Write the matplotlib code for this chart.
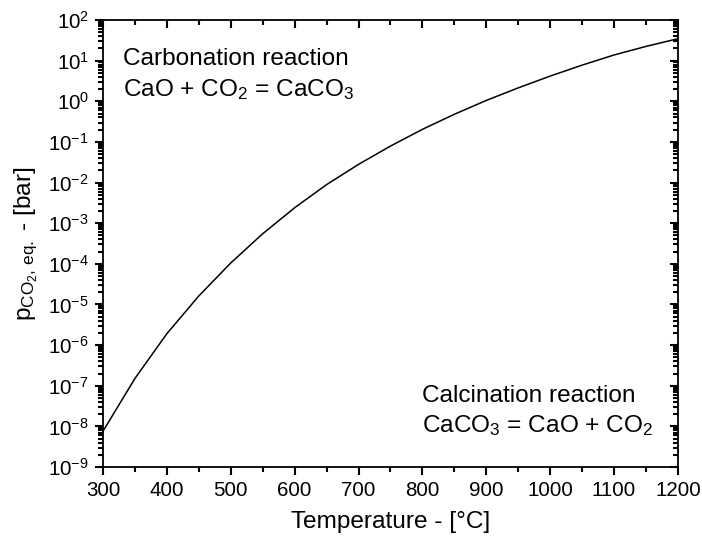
import matplotlib
matplotlib.use('Agg')
import matplotlib.pyplot as plt
from matplotlib.ticker import LogLocator, LogFormatterMathtext, MultipleLocator, NullFormatter

plt.rcParams['font.family'] = 'Liberation Sans'
plt.rcParams['mathtext.fontset'] = 'custom'
plt.rcParams['mathtext.rm'] = 'Liberation Sans'
plt.rcParams['mathtext.it'] = 'Liberation Sans:italic'
plt.rcParams['mathtext.bf'] = 'Liberation Sans:bold'

# equilibrium CO2 partial pressure over CaO/CaCO3
temperature = [300, 350, 400, 450, 500, 550, 600, 650, 700, 750,
               800, 850, 900, 950, 1000, 1050, 1100, 1150, 1200]
p_co2 = [7.6e-9, 1.51e-7, 1.91e-6, 1.62e-5, 1.05e-4, 5.5e-4, 2.4e-3, 8.9e-3, 2.8e-2, 7.9e-2,
         0.204, 0.479, 1.05, 2.14, 4.17, 7.76, 13.8, 22.4, 34.7]

BIG = 17.6
SMALL = 14.8

fig = plt.figure(figsize=(7.02, 5.45), dpi=100)
ax = fig.add_axes([0.1467, 0.1431, 0.8191, 0.8202])

ax.plot(temperature, p_co2, color='black', lw=1.1)

ax.set_xlim(300, 1200)
ax.set_yscale('log')
ax.set_ylim(1e-9, 1e2)

ax.xaxis.set_major_locator(MultipleLocator(100))
ax.xaxis.set_minor_locator(MultipleLocator(50))
ax.yaxis.set_major_locator(LogLocator(base=10, numticks=20))
ax.yaxis.set_minor_locator(LogLocator(base=10, subs=range(2, 10), numticks=20))
ax.yaxis.set_major_formatter(LogFormatterMathtext())
ax.yaxis.set_minor_formatter(NullFormatter())

for side in ax.spines.values():
    side.set_linewidth(1.3)

# bottom/left ticks point out
ax.tick_params(which='both', direction='out', color='black', width=1.5,
               labelsize=SMALL, pad=4)
ax.tick_params(which='major', length=6)
ax.tick_params(which='minor', length=3.5)

# top/right ticks point in, drawn on a label-free twin of the axes
twin = fig.add_axes(ax.get_position(), sharex=ax, sharey=ax, frameon=False)
twin.patch.set_visible(False)
twin.tick_params(which='both', direction='in', color='black', width=1.5,
                 bottom=False, left=False, top=True, right=True,
                 labelbottom=False, labelleft=False)
twin.tick_params(which='major', length=6)
twin.tick_params(which='minor', length=3.5)

ax.set_xlabel('Temperature - [°C]', fontsize=BIG, labelpad=8)
ax.set_ylabel(r'p$_{\mathregular{CO_2,\,eq.}}$ - [bar]', fontsize=BIG, labelpad=6)

# reaction labels, placed in pixels from the top-left corner
H = 545
fig.text(123, H - 65, 'Carbonation reaction', fontsize=BIG, va='baseline', transform=None)
fig.text(123, H - 96, r'CaO + CO$_2$ = CaCO$_3$', fontsize=BIG, va='baseline', transform=None)
fig.text(422, H - 402, 'Calcination reaction', fontsize=BIG, va='baseline', transform=None)
fig.text(422, H - 432, r'CaCO$_3$ = CaO + CO$_2$', fontsize=BIG, va='baseline', transform=None)

fig.savefig('out.png', dpi=100)
